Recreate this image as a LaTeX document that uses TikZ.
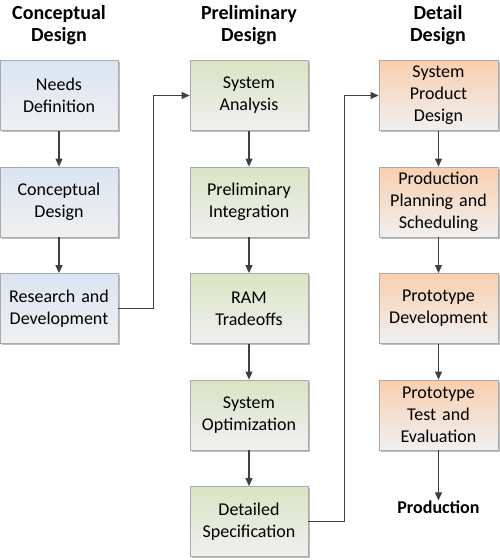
\documentclass[tikz,border=0pt]{standalone}
\usepackage{fontspec}
\setmainfont{Carlito}
\usetikzlibrary{shadows,arrows.meta}
\definecolor{bluetop}{RGB}{218,229,243}
\definecolor{greentop}{RGB}{218,228,196}
\definecolor{orangetop}{RGB}{249,207,175}
\definecolor{boxbottom}{RGB}{240,240,240}
\definecolor{boxborder}{RGB}{170,170,170}
\definecolor{conn}{RGB}{64,64,64}
\tikzset{
  box/.style={draw=boxborder, line width=0.8pt, minimum width=118pt, minimum height=70pt,
    text width=114pt, align=center, inner sep=0pt, font=\fontsize{18}{22}\selectfont,
    drop shadow={shadow xshift=1.5pt, shadow yshift=-1.5pt, opacity=0.25, fill=black}},
  bluebox/.style={box, top color=bluetop, bottom color=boxbottom},
  greenbox/.style={box, top color=greentop, bottom color=boxbottom},
  orangebox/.style={box, top color=orangetop, bottom color=boxbottom},
  head/.style={align=center, font=\fontsize{20}{22}\selectfont\bfseries, inner sep=0pt},
  arr/.style={draw=conn, line width=1.1pt, -{Triangle[length=8pt,width=7pt]}}
}
\begin{document}
\begin{tikzpicture}[x=1pt,y=-1pt]
\useasboundingbox (0,0) rectangle (500,560);
\node[head] (h1) at (59,25) {Conceptual\\Design};
\node[head] (h2) at (249,25) {Preliminary\\Design};
\node[head] (h3) at (438,25) {Detail\\Design};

\node[bluebox] (nd) at (59,95.5) {Needs\\Definition};
\node[bluebox] (cd) at (59,202) {Conceptual\\Design};
\node[bluebox] (rd) at (59,308.5) {Research and\\Development};

\node[greenbox] (sa) at (249,95.5) {System\\Analysis};
\node[greenbox] (pi) at (249,202) {Preliminary\\Integration};
\node[greenbox] (rt) at (249,308.5) {RAM\\Tradeoffs};
\node[greenbox] (so) at (249,415) {System\\Optimization};
\node[greenbox] (ds) at (249,521.5) {Detailed\\Specification};

\node[orangebox, minimum width=119pt] (sp) at (438.5,95.5) {System\\Product\\Design};
\node[orangebox, minimum width=119pt] (pp) at (438.5,202) {Production\\Planning and\\Scheduling};
\node[orangebox, minimum width=119pt] (pd) at (438.5,308.5) {Prototype\\Development};
\node[orangebox, minimum width=119pt] (pt) at (438.5,415) {Prototype\\Test and\\Evaluation};
\node[head, font=\fontsize{18}{22}\selectfont\bfseries] (pr) at (438.5,507) {Production};

\draw[arr] (nd) -- (cd);
\draw[arr] (cd) -- (rd);
\draw[arr] (rd.east) -- ++(35,0) |- (sa.west);
\draw[arr] (sa) -- (pi);
\draw[arr] (pi) -- (rt);
\draw[arr] (rt) -- (so);
\draw[arr] (so) -- (ds);
\draw[arr] (ds.east) -- ++(36,0) |- (sp.west);
\draw[arr] (sp) -- (pp);
\draw[arr] (pp) -- (pd);
\draw[arr] (pd) -- (pt);
\draw[arr] (pt) -- (pr);
\end{tikzpicture}
\end{document}
